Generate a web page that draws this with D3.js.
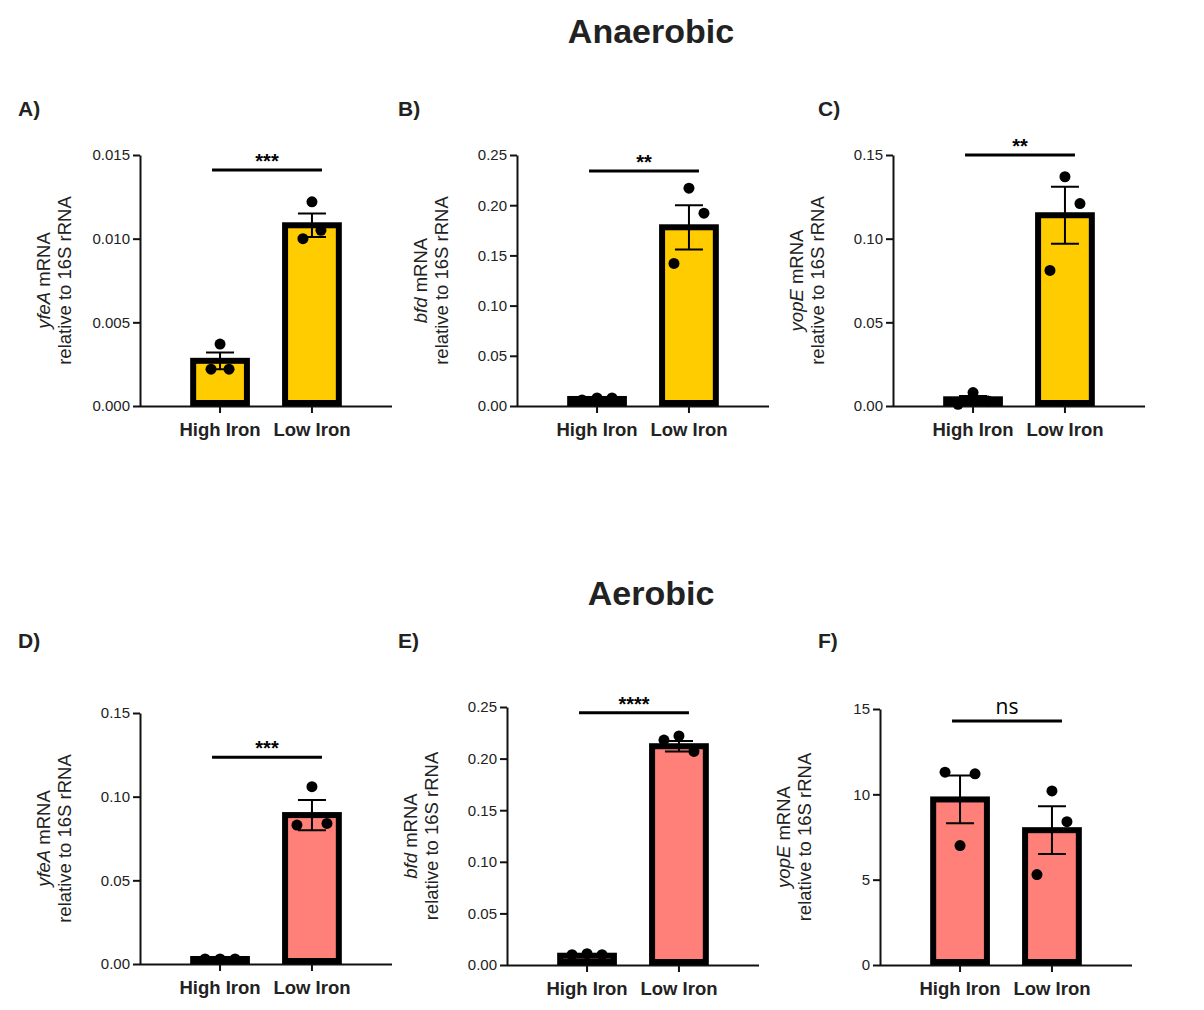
<!DOCTYPE html>
<html><head><meta charset="utf-8">
<script src="https://d3js.org/d3.v7.min.js"></script>
<style>body{margin:0;background:#fff}text{font-family:"Liberation Sans",Arial,sans-serif}</style>
</head><body><div id="chart"></div>
<script>
const groups = ['High Iron', 'Low Iron'];
const panelLabels = ['A)', 'B)', 'C)', 'D)', 'E)', 'F)'];
const genes = ['yfeA', 'bfd', 'yopE', 'yfeA', 'bfd', 'yopE'];
const yMax = [0.015, 0.25, 0.15, 0.15, 0.25, 15];
const yTicks = [
  [0, 0.005, 0.010, 0.015], [0, 0.05, 0.10, 0.15, 0.20, 0.25], [0, 0.05, 0.10, 0.15],
  [0, 0.05, 0.10, 0.15], [0, 0.05, 0.10, 0.15, 0.20, 0.25], [0, 5, 10, 15]];
const tickDigits = [3, 2, 2, 2, 2, 0];
const means = [[0.0027, 0.0108], [0.007, 0.178], [0.004, 0.114], [0.003, 0.089], [0.009, 0.212], [9.7, 7.9]];
const sems = [[0.0005, 0.0007], [0.001, 0.022], [0.002, 0.017], [0.0003, 0.009], [0.0008, 0.005], [1.4, 1.4]];
const points = [
  [[0.0022, 0.0037, 0.0022], [0.0100, 0.0122, 0.0105]],
  [[0.006, 0.008, 0.008], [0.142, 0.217, 0.192]],
  [[0.001, 0.008, 0.003], [0.081, 0.137, 0.121]],
  [[0.003, 0.003, 0.003], [0.083, 0.106, 0.084]],
  [[0.010, 0.011, 0.010], [0.218, 0.222, 0.207]],
  [[11.3, 7.0, 11.2], [5.3, 10.2, 8.4]]];
const jitter = [[-9, 0, 9], [-15, 0, 15], [-15, 0, 15], [-15, 0, 15], [-15, 0, 15], [-15, 0, 15]];
const sigText = ['***', '**', '**', '***', '****', 'ns'];
const sigValue = [0.0141, 0.234, 0.150, 0.1235, 0.2445, 14.3];
const colors = ['#ffcc00', '#ffcc00', '#ffcc00', '#ff7f79', '#ff7f79', '#ff7f79'];

// layout: axis x, top y, bottom y
const layout = [
  [140, 155, 406], [517, 155, 406], [893, 155, 406],
  [140, 713, 964], [507, 707, 965], [880, 709, 965]];
const labelPos = [[18, 116], [398, 116], [818, 116], [18, 648], [398, 648], [818, 648]];

const svg = d3.select('#chart').append('svg').attr('width', 1204).attr('height', 1010);
svg.append('text').attr('x', 651).attr('y', 43).attr('text-anchor', 'middle')
  .style('font-size', '34px').style('font-weight', 'bold').style('fill', '#222').text('Anaerobic');
svg.append('text').attr('x', 651).attr('y', 605).attr('text-anchor', 'middle')
  .style('font-size', '34px').style('font-weight', 'bold').style('fill', '#222').text('Aerobic');

layout.forEach(([ax, top, bot], i) => {
  const g = svg.append('g');
  const x = d3.scaleBand().domain(groups).range([ax + 18, ax + 234]).padding(0.35);
  const y = d3.scaleLinear().domain([0, yMax[i]]).range([bot, top]);

  g.append('text').attr('x', labelPos[i][0]).attr('y', labelPos[i][1])
    .style('font-size', '21px').style('font-weight', 'bold').style('fill', '#222').text(panelLabels[i]);

  const yAx = g.append('g').attr('transform', `translate(${ax},0)`)
    .call(d3.axisLeft(y).tickValues(yTicks[i]).tickFormat(d3.format('.' + tickDigits[i] + 'f')).tickSize(7).tickSizeOuter(0));
  yAx.selectAll('text').style('font-size', '15px').style('fill', '#222');
  const xAx = g.append('g').attr('transform', `translate(0,${bot})`)
    .call(d3.axisBottom(x).tickSize(7).tickSizeOuter(0));
  xAx.select('.domain').attr('d', `M${ax},0.5H${ax + 252}`);
  xAx.selectAll('text').attr('dy', '1.1em').style('font-size', '18.5px').style('font-weight', 'bold').style('fill', '#222');
  g.selectAll('.domain, .tick line').attr('stroke', '#111').attr('stroke-width', 2);

  groups.forEach((grp, j) => {
    const cx = x(grp) + x.bandwidth() / 2;
    g.append('rect').attr('x', x(grp) + 3).attr('width', x.bandwidth() - 6)
      .attr('y', y(means[i][j])).attr('height', Math.max(0, bot - 3 - y(means[i][j])))
      .attr('fill', colors[i]).attr('stroke', '#000').attr('stroke-width', 6);
    const hi = y(means[i][j] + sems[i][j]), lo = y(means[i][j] - sems[i][j]);
    g.append('path').attr('d', `M${cx},${hi}V${lo}M${cx - 14},${hi}H${cx + 14}M${cx - 14},${lo}H${cx + 14}`)
      .attr('stroke', '#000').attr('stroke-width', 2).attr('fill', 'none');
    g.selectAll(null).data(points[i][j]).join('circle')
      .attr('cx', (d, k) => cx + jitter[i][k]).attr('cy', d => y(d)).attr('r', 5.5).attr('fill', '#000');
  });

  const x1 = x(groups[0]) + x.bandwidth() / 2 - 8, x2 = x(groups[1]) + x.bandwidth() / 2 + 10;
  const sy = y(sigValue[i]);
  g.append('line').attr('x1', x1).attr('x2', x2).attr('y1', sy).attr('y2', sy).attr('stroke', '#000').attr('stroke-width', 3);
  const ns = sigText[i] === 'ns';
  g.append('text').attr('x', (x1 + x2) / 2).attr('y', sy - (ns ? 7 : 2)).attr('text-anchor', 'middle')
    .style('font-size', ns ? '21px' : '20px').style('font-weight', ns ? 'normal' : 'bold')
    .style('font-family', ns ? '"Open Sans", sans-serif' : null).text(sigText[i]);

  const t = g.append('text').attr('transform', `translate(${ax - 88},${(top + bot) / 2}) rotate(-90)`)
    .attr('text-anchor', 'middle').style('font-size', '18.5px').style('fill', '#222');
  t.append('tspan').attr('x', 0).attr('dy', '-0.1em').style('font-style', 'italic').text(genes[i]);
  t.append('tspan').text(' mRNA');
  t.append('tspan').attr('x', 0).attr('dy', '1.15em').text('relative to 16S rRNA');
});
</script></body></html>
